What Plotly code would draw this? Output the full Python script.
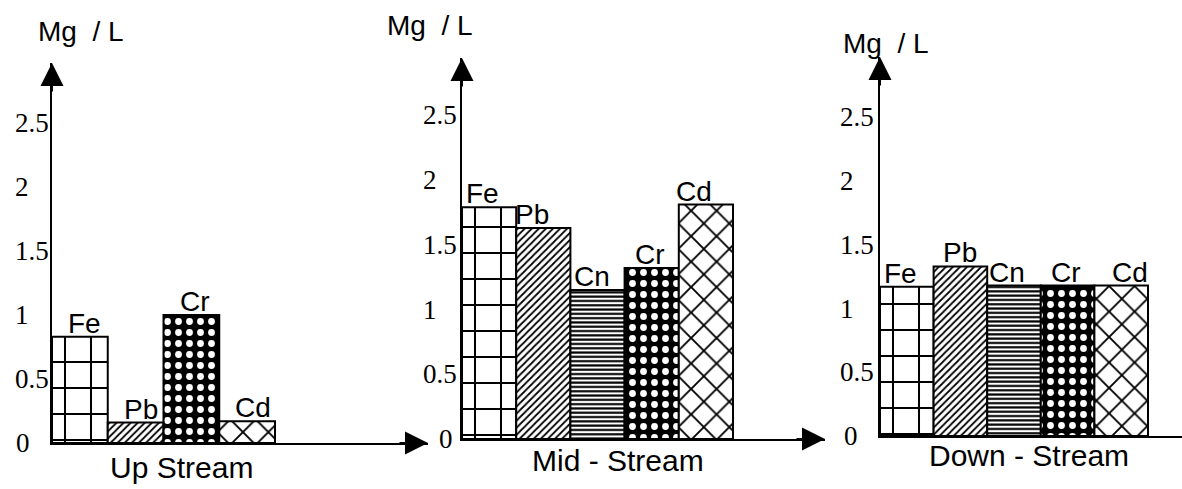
import plotly.graph_objects as go

# ---------------- data ----------------
panel_titles = ["Up Stream", "Mid - Stream", "Down - Stream"]
up_metals = ["Fe", "Pb", "Cr", "Cd"]
up_values = [0.83, 0.16, 1.0, 0.17]
mid_metals = ["Fe", "Pb", "Cn", "Cr", "Cd"]
mid_values = [1.79, 1.63, 1.15, 1.32, 1.81]
down_metals = ["Fe", "Pb", "Cn", "Cr", "Cd"]
down_values = [1.17, 1.33, 1.18, 1.18, 1.18]
tick_values = [0, 0.5, 1, 1.5, 2, 2.5]
tick_labels = ["0", "0.5", "1", "1.5", "2", "2.5"]
y_unit = "Mg\u00a0\u00a0/ L"

# ---------------- styles / layout ----------------
W, H = 1182, 489
SANS = "Liberation Sans, Arial, sans-serif"
SERIF = "Liberation Serif, Times New Roman, serif"

PATTERNS = {
    "Fe": dict(shape="+", size=26, solidity=0.15, fgcolor="black", bgcolor="white"),
    "Pb": dict(shape="/", size=5, solidity=0.35, fgcolor="black", bgcolor="white"),
    "Cn": dict(shape="-", size=4.3, solidity=0.5, fgcolor="black", bgcolor="white"),
    "Cr": dict(shape=".", size=11, solidity=0.3, fgcolor="white", bgcolor="black"),
    "Cd": dict(shape="x", size=18, solidity=0.2, fgcolor="black", bgcolor="white"),
}

# pixel geometry of each panel
GEOM = [
    dict(axis_x=52, base_y=443, tip_y=63, end_x=428, bar_w=55.75, ppu=128.0,
         tick_x=13, zero_x=14, unit_x=36, unit_y=31, title_x=181, title_y=467,
         nudge=[5, 5, 4, 6], arrow_x=True),
    dict(axis_x=462, base_y=439, tip_y=58, end_x=825, bar_w=54.2, ppu=129.5,
         tick_x=421, zero_x=437, unit_x=385, unit_y=25, title_x=618, title_y=460,
         nudge=[-7, -11, -6, -2, -12], arrow_x=True),
    dict(axis_x=880, base_y=436, tip_y=57, end_x=1182, bar_w=53.6, ppu=127.5,
         tick_x=838, zero_x=842, unit_x=841, unit_y=43, title_x=1029, title_y=455,
         nudge=[-6, 0, -7, -2, 9], arrow_x=False),
]

data_sets = [(up_metals, up_values), (mid_metals, mid_values), (down_metals, down_values)]


def px_x(p):
    return p / W


def px_y(p):
    return 1 - p / H


fig = go.Figure()
annotations = []
layout_axes = {}

for k, ((metals, values), g, title) in enumerate(zip(data_sets, GEOM, panel_titles)):
    sfx = "" if k == 0 else str(k + 1)
    xa, ya = "x" + sfx, "y" + sfx
    xs = list(range(len(metals)))
    fig.add_trace(go.Bar(
        x=xs, y=values, width=1.0, xaxis=xa, yaxis=ya,
        marker=dict(
            color="white",
            line=dict(color="black", width=2),
            pattern=dict(
                shape=[PATTERNS[m]["shape"] for m in metals],
                size=[PATTERNS[m]["size"] for m in metals],
                solidity=[PATTERNS[m]["solidity"] for m in metals],
                fgcolor=[PATTERNS[m]["fgcolor"] for m in metals],
                bgcolor=[PATTERNS[m]["bgcolor"] for m in metals],
                fillmode="replace",
            ),
        ),
        showlegend=False, hoverinfo="skip",
    ))

    x_span = (g["end_x"] - g["axis_x"]) / g["bar_w"]
    y_top = (g["base_y"] - g["tip_y"]) / g["ppu"]
    layout_axes["xaxis" + sfx] = dict(
        domain=[px_x(g["axis_x"]), px_x(g["end_x"])],
        range=[-0.5, -0.5 + x_span], anchor=ya,
        showgrid=False, zeroline=False, showticklabels=False, ticks="",
        showline=True, linecolor="black", linewidth=2, fixedrange=True,
    )
    layout_axes["yaxis" + sfx] = dict(
        domain=[px_y(g["base_y"]), px_y(g["tip_y"])],
        range=[0, y_top], anchor=xa,
        showgrid=False, zeroline=False, showticklabels=False, ticks="",
        showline=True, linecolor="black", linewidth=2, fixedrange=True,
    )

    # tick labels (left-aligned, as in the original)
    for tv, tl in zip(tick_values, tick_labels):
        lx = g["zero_x"] if tv == 0 else g["tick_x"]
        annotations.append(dict(
            xref="paper", yref=ya, x=px_x(lx), y=tv, text=tl, showarrow=False,
            xanchor="left", yanchor="middle",
            font=dict(family=SERIF, size=27, color="black"),
        ))

    # bar labels
    for i, (m, v) in enumerate(zip(metals, values)):
        annotations.append(dict(
            xref=xa, yref=ya, x=i, y=v, text=m, showarrow=False,
            xanchor="center", yanchor="bottom", xshift=g["nudge"][i], yshift=-4,
            font=dict(family=SANS, size=28, color="black"),
        ))

    # unit label
    annotations.append(dict(
        xref="paper", yref="paper", x=px_x(g["unit_x"]), y=px_y(g["unit_y"]),
        text=y_unit, showarrow=False, xanchor="left", yanchor="middle",
        font=dict(family=SANS, size=28, color="black"),
    ))
    # panel title
    annotations.append(dict(
        xref="paper", yref="paper", x=px_x(g["title_x"]), y=px_y(g["title_y"]),
        text=title, showarrow=False, xanchor="center", yanchor="middle",
        font=dict(family=SANS, size=30, color="black"),
    ))
    # y-axis arrowhead
    annotations.append(dict(
        xref="paper", yref="paper", x=px_x(g["axis_x"]), y=px_y(g["tip_y"]),
        ax=0, ay=30, axref="pixel", ayref="pixel", text="", showarrow=True,
        arrowhead=2, arrowsize=2.3, arrowwidth=2, arrowcolor="black", standoff=0,
    ))
    if g["arrow_x"]:
        annotations.append(dict(
            xref="paper", yref="paper", x=px_x(g["end_x"]), y=px_y(g["base_y"]),
            ax=-30, ay=0, axref="pixel", ayref="pixel", text="", showarrow=True,
            arrowhead=2, arrowsize=2.3, arrowwidth=2, arrowcolor="black", standoff=0,
        ))

fig.update_layout(
    width=W, height=H,
    margin=dict(l=0, r=0, t=0, b=0),
    paper_bgcolor="white", plot_bgcolor="white",
    bargap=0, barmode="overlay",
    annotations=annotations,
    showlegend=False,
    **layout_axes,
)

fig.write_html(
    "out.html",
    config={"displayModeBar": False, "staticPlot": True},
    post_script="document.body.style.margin='0';document.body.style.padding='0';",
)
